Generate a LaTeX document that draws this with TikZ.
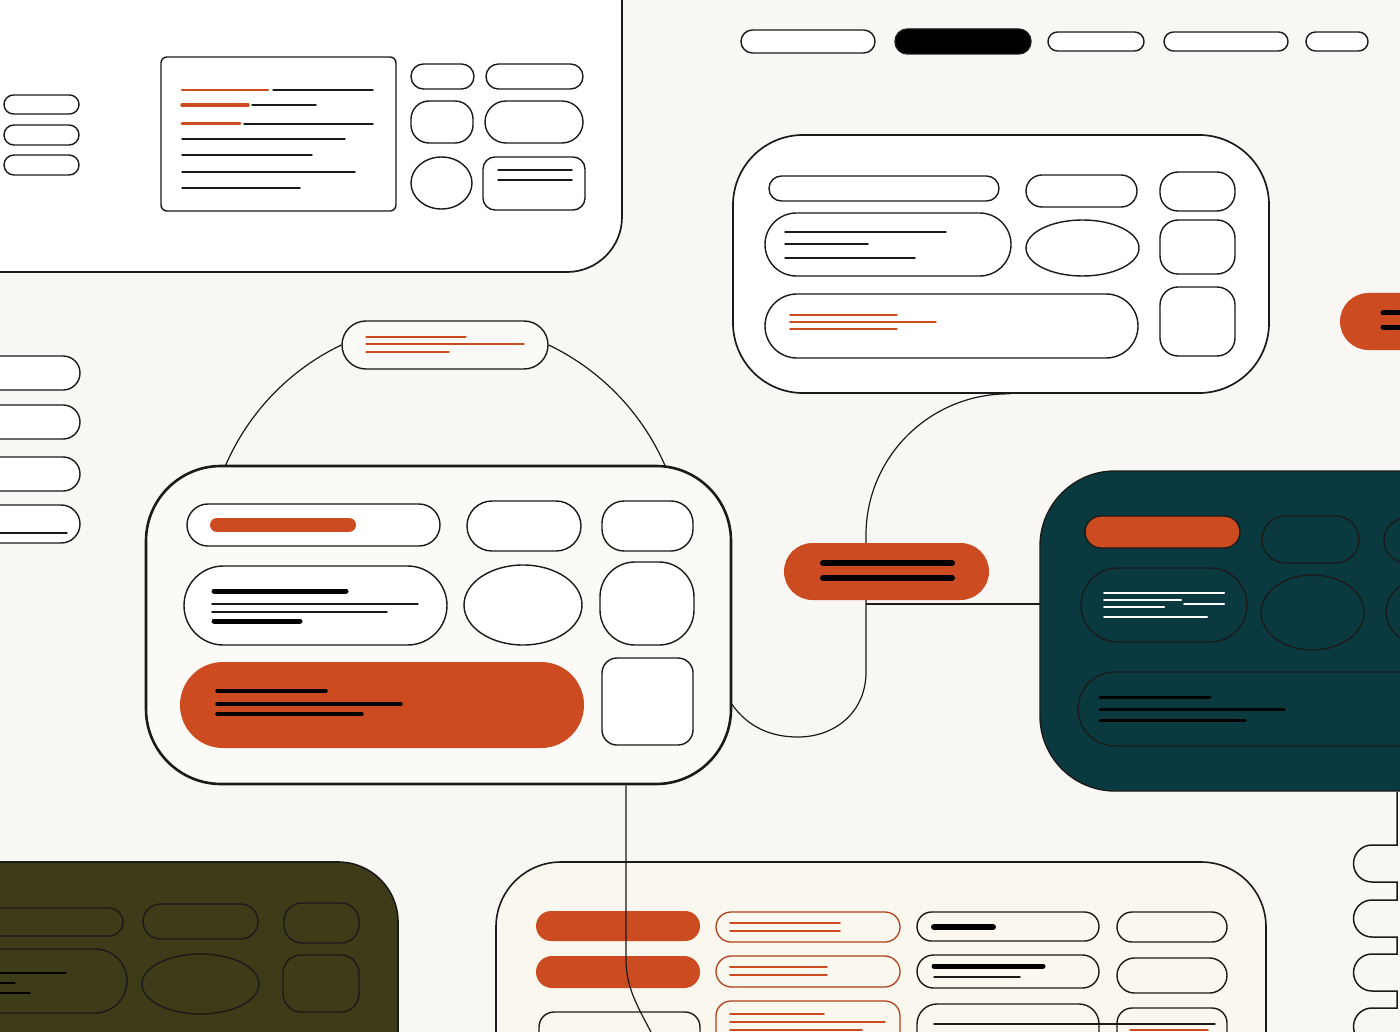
\documentclass[tikz,border=0pt]{standalone}
\usetikzlibrary{shapes.misc,calc}

\definecolor{paper}{HTML}{F9F7F3}
\definecolor{rust}{HTML}{CD4B21}
\definecolor{deepteal}{HTML}{0A3A40}
\definecolor{moss}{HTML}{3E3C18}
\definecolor{cream}{HTML}{FAF8EE}
\definecolor{ink}{HTML}{1A1A1A}
\definecolor{shell}{HTML}{FBFAF6}

\tikzset{
  card/.style={draw=ink, line width=1.7pt, inner sep=0pt, rectangle},
  slot/.style={draw=ink, line width=1.4pt},
  wire/.style={draw=ink, line width=1.2pt},
  thinbar/.style={line width=1.4pt, line cap=round},
  thickbar/.style={line width=#1, line cap=round},
  thickbar/.default=5pt,
}

% capsule from corner to corner, ends fully round
\newcommand\pillbox[5][]{%
  \pgfmathsetmacro\pbr{0.5*min(abs(#4-(#2)),abs(#5-(#3)))-0.05}%
  \draw[#1, rounded corners=\pbr pt] (#2,#3) rectangle (#4,#5);}

\begin{document}
\begin{tikzpicture}[x=1pt,y=-1pt]
    \useasboundingbox (0,0) rectangle (1400,1032);
    \clip (0,0) rectangle (1400,1032);
    \fill[paper] (0,0) rectangle (1400,1032);

    % top left board
    \node[card, rounded corners=55pt, fill=white, minimum width=682pt, minimum height=352pt] (board) at (281,96) {};
    \pillbox[slot]{4}{95}{79}{114}
    \pillbox[slot]{4}{125}{79}{145}
    \pillbox[slot]{4}{155}{79}{175}
    \draw[slot, rounded corners=6pt] (161,57) rectangle (396,211);
    \draw[thickbar=2.5pt, rust] (182,90) -- (268,90);
    \draw[thickbar=3.5pt, rust] (182,105) -- (248,105);
    \draw[thickbar=3pt, rust] (182,124) -- (240,124);
    \draw[thinbar, ink] (273,90) -- (373,90) (252,105) -- (316,105) (244,124) -- (373,124)
        (182,139) -- (345,139) (182,155) -- (312,155) (182,172) -- (355,172) (182,188) -- (300,188);
    \pillbox[slot]{411}{64}{474}{89}
    \pillbox[slot]{486}{64}{583}{89}
    \draw[slot, rounded corners=18pt] (411,101) rectangle (473,143);
    \pillbox[slot]{485}{101}{583}{143}
    \draw[slot] (441.5,183) ellipse [x radius=30.5, y radius=26];
    \draw[slot, rounded corners=12pt] (483,157) rectangle (585,210);
    \draw[thinbar, ink] (498,170) -- (572,170) (498,180) -- (572,180);

    % top menu
    \pillbox[slot, fill=white]{741}{30}{875}{53}
    \pillbox[slot, fill=black]{895}{29}{1031}{54}
    \pillbox[slot, fill=white]{1048}{32}{1144}{51}
    \pillbox[slot, fill=white]{1164}{32}{1288}{51}
    \pillbox[slot, fill=white]{1306}{32}{1368}{51}

    % top right panel
    \node[card, rounded corners=70pt, fill=white, minimum width=536pt, minimum height=258pt] (panel) at (1001,264) {};
    \pillbox[slot]{769}{176}{999}{201}
    \pillbox[slot]{1026}{175}{1137}{207}
    \draw[slot, rounded corners=18pt] (1160,172) rectangle (1235,211);
    \pillbox[slot]{765}{213}{1011}{276}
    \draw[thinbar, ink] (785,232) -- (946,232) (785,244) -- (868,244) (785,258) -- (915,258);
    \draw[slot] (1082.5,248) ellipse [x radius=56.5, y radius=28];
    \draw[slot, rounded corners=18pt] (1160,220) rectangle (1235,274);
    \pillbox[slot]{765}{294}{1138}{358}
    \draw[thinbar, rust] (790,315) -- (897,315) (790,322) -- (936,322) (790,329) -- (897,329);
    \draw[slot, rounded corners=18pt] (1160,287) rectangle (1235,356);

    % stub at the right edge
    \node[rounded rectangle, fill=rust, inner sep=0pt, minimum width=100pt, minimum height=57pt] (stub) at (1390,321.5) {};
    \draw[thickbar=5pt, black] (1383,313) -- (1410,313) (1383,327) -- (1410,327);

    % left list
    \pillbox[slot, fill=white]{-40}{356}{80}{390}
    \pillbox[slot, fill=white]{-40}{405}{80}{439}
    \pillbox[slot, fill=white]{-40}{457}{80}{491}
    \pillbox[slot, fill=white]{-40}{505}{80}{543}
    \draw[thinbar, ink] (-5,533) -- (67,533);

    % tag above the main card
    \node[rounded rectangle, draw=ink, line width=1.4pt, fill=shell, inner sep=0pt,
          minimum width=206pt, minimum height=48pt] (tag) at (445,345) {};
    \draw[thinbar, rust, line width=1.2pt] (366,337) -- (466,337) (366,344) -- (524,344) (366,352) -- (449,352);
    \draw[wire] (tag.west) arc[start angle=-115.6, end angle=-156.8, radius=238];
    \draw[wire] (tag.east) arc[start angle=-64.4, end angle=-22.5, radius=240];

    % wires around the hub
    \coordinate (bend) at (866,604);
    \draw[wire] (731,703) .. controls (748,728) and (772,737) .. (798,737)
        .. controls (835,737) and (866,712) .. (866,672) -- (866,535)
        .. controls (866,457) and (930,393) .. ($(panel.south)+(9,0)$);
    \draw[wire] (bend) -- (bend -| 1040,0);

    % main card
    \node[card, line width=2.6pt, rounded corners=75pt, fill=shell, minimum width=585pt, minimum height=318pt] (main) at (438.5,625) {};
    \pillbox[slot, fill=white]{187}{504}{440}{546}
    \draw[thickbar=14pt, rust] (217,525) -- (349,525);
    \pillbox[slot, fill=white]{467}{501}{581}{551}
    \draw[slot, fill=white, rounded corners=22pt] (602,501) rectangle (693,551);
    \pillbox[slot, fill=white]{184}{566}{447}{645}
    \draw[thickbar=5pt, black] (214,591) -- (346,591) (214,621) -- (300,621);
    \draw[thinbar, ink] (212,604) -- (418,604) (212,612) -- (387,612);
    \draw[slot, fill=white] (523,605) ellipse [x radius=59, y radius=40];
    \draw[slot, fill=white, rounded corners=35pt] (600,562) rectangle (694,645);
    \pillbox[fill=rust, draw=none]{180}{662}{584}{748}
    \draw[thickbar=3.5pt, black] (217,691) -- (326,691) (217,704) -- (401,704) (217,714) -- (362,714);
    \draw[slot, fill=white, rounded corners=15pt] (602,658) rectangle (693,745);

    % hub
    \node[rounded rectangle, fill=rust, inner sep=0pt, minimum width=205pt, minimum height=57pt] (hub) at (886.5,571.5) {};
    \draw[thickbar=6pt, black] (823,563) -- (952,563) (823,578) -- (952,578);

    % dark dock
    \node[card, line width=1.4pt, rounded corners=75pt, fill=deepteal, minimum width=440pt, minimum height=320pt] (dock) at (1260,631) {};
    \pillbox[slot, fill=rust]{1085}{516}{1240}{548}
    \pillbox[slot]{1262}{516}{1359}{563}
    \pillbox[slot]{1384}{518}{1460}{563}
    \pillbox[slot]{1081}{568}{1247}{642}
    \draw[thickbar=2pt, white] (1104,593) -- (1224,593) (1104,600) -- (1181,600) (1184,604) -- (1224,604)
        (1104,607) -- (1164,607) (1104,617) -- (1207,617);
    \draw[slot] (1312.5,612.5) ellipse [x radius=51.5, y radius=37.5];
    \draw[slot] (1438,612) ellipse [x radius=52, y radius=38];
    \pillbox[slot]{1078}{672}{1500}{746}
    \draw[thickbar=3pt, black] (1100,697) -- (1210,697) (1100,709) -- (1284,709) (1100,720) -- (1245,720);

    % olive shelf
    \node[card, line width=1.6pt, rounded corners=60pt, fill=moss, minimum width=478pt, minimum height=258pt] (shelf) at (159,991) {};
    \pillbox[slot]{-40}{908}{123}{936}
    \pillbox[slot]{143}{904}{258}{939}
    \draw[slot, rounded corners=18pt] (284,903) rectangle (359,943);
    \pillbox[slot]{-40}{949}{127}{1013}
    \draw[thinbar, black] (-5,973) -- (66,973) (-5,983) -- (15,983) (-5,993) -- (30,993);
    \draw[slot] (200.5,984) ellipse [x radius=58.5, y radius=30];
    \draw[slot, rounded corners=18pt] (283,955) rectangle (359,1012);

    % cream tray
    \node[card, line width=1.6pt, rounded corners=65pt, fill=cream, minimum width=770pt, minimum height=258pt] (tray) at (881,991) {};
    \pillbox[fill=rust, draw=none]{536}{911}{700}{941}
    \pillbox[fill=rust, draw=none]{536}{956}{700}{988}
    \draw[slot, rounded corners=15pt] (539,1012) rectangle (700,1070);
    \pillbox[slot, draw=rust!85!black, line width=1.3pt]{716}{912}{900}{942}
    \pillbox[slot, draw=rust!85!black, line width=1.3pt]{716}{956}{900}{987}
    \draw[slot, draw=rust!85!black, line width=1.3pt, rounded corners=15pt] (716,1001) rectangle (900,1070);
    \draw[thinbar, rust, line width=1.6pt] (730,923) -- (840,923) (730,931) -- (840,931)
        (730,967) -- (827,967) (730,975) -- (827,975)
        (730,1014) -- (824,1014) (730,1022) -- (885,1022) (730,1030) -- (862,1030);
    \pillbox[slot]{917}{912}{1099}{941}
    \draw[thickbar=6pt, black] (934,927) -- (993,927);
    \pillbox[slot]{917}{955}{1099}{988}
    \draw[thickbar=5pt, black] (934,966) -- (1043,966);
    \draw[thinbar, ink] (934,977) -- (1020,977);
    \draw[slot, rounded corners=20pt] (917,1004) rectangle (1099,1070);
    \pillbox[slot]{1117}{912}{1227}{942}
    \pillbox[slot]{1117}{958}{1227}{993}
    \draw[slot, rounded corners=15pt] (1117,1008) rectangle (1227,1070);
    \draw[thinbar, ink] (934,1024) -- (1215,1024);
    \draw[thinbar, rust] (1130,1030) -- (1208,1030);

    % wire from the main card into the tray
    \draw[wire] ($(main.south)+(187.5,0)$) -- (626,960) .. controls (626,990) and (640,1010) .. (655,1040);

    % wire from the dock down the right edge
    \draw[wire, line width=1.5pt] ($(dock.south)+(137,0)$)
        \foreach \w in {845,900,954,1008}{ -- (1397,\w) -- (1372,\w)
        arc[start angle=-90, end angle=-270, radius=18.5] -- (1397,\w+37) };
\end{tikzpicture}
\end{document}
